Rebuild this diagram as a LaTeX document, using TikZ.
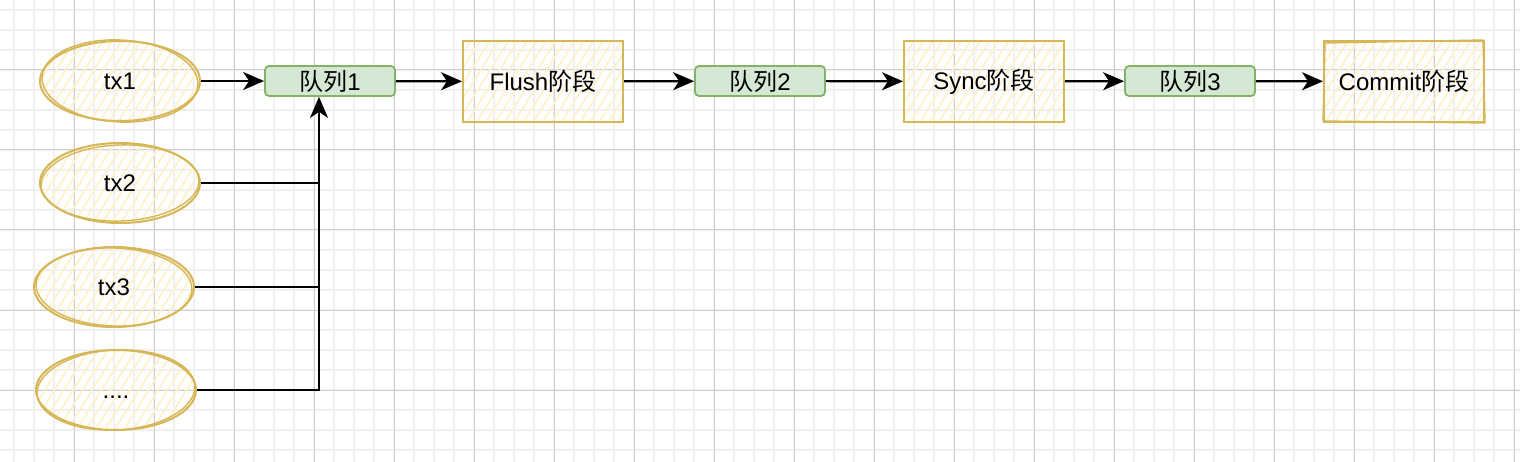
\documentclass[tikz,border=0pt]{standalone}
\usepackage{fontspec}
\setmainfont{Liberation Sans}
\newfontfamily\cjk{Noto Sans CJK SC}
\usetikzlibrary{arrows.meta,shapes.geometric,patterns.meta}
\definecolor{minorg}{HTML}{F0F0F0}
\definecolor{majorg}{HTML}{D0D0D0}
\definecolor{ystroke}{HTML}{D6B656}
\definecolor{yhatch}{HTML}{FFF2CC}
\definecolor{gfill}{HTML}{D5E8D4}
\definecolor{gstroke}{HTML}{82B366}
\tikzset{
  minorgrid/.style={draw=minorg,line width=2pt},
  majorgrid/.style={draw=majorg,line width=1pt},
  txell/.style={ellipse,draw=ystroke,line width=2pt,minimum width=160pt,minimum height=80pt,inner sep=0pt,
    pattern={Lines[angle=58,distance=8pt,line width=1.8pt]},pattern color=yhatch,
    font=\fontsize{24}{28}\selectfont},
  sketchline/.style={draw=ystroke,line width=1.4pt},
  stagebox/.style={rectangle,draw=ystroke,line width=2pt,minimum width=160pt,minimum height=81pt,inner sep=0pt,
    pattern={Lines[angle=58,distance=8pt,line width=1.8pt]},pattern color=yhatch,
    font=\fontsize{24}{28}\selectfont},
  queuebox/.style={rectangle,rounded corners=4pt,draw=gstroke,fill=gfill,line width=1.8pt,
    minimum width=130pt,minimum height=30pt,inner sep=0pt,font=\fontsize{24}{28}\selectfont},
  arr/.style={draw=black,line width=2.2pt,-{Stealth[length=21pt,width=18pt,inset=6pt]}},
  conn/.style={draw=black,line width=2.2pt},
}
\begin{document}
\begin{tikzpicture}[x=1pt,y=-1pt]
\useasboundingbox (0,0) rectangle (1520,462);
\fill[white] (0,0) rectangle (1520,462);
% grid
\foreach \x in {14,34,...,1514} \draw[minorgrid] (\x,0) -- (\x,462);
\foreach \y in {10,30,...,450} \draw[minorgrid] (0,\y) -- (1520,\y);
\foreach \x in {74,154,...,1514} \draw[majorgrid] (\x,0) -- (\x,462);
\foreach \y in {70,150,...,390} \draw[majorgrid] (0,\y) -- (1520,\y);

% transaction ellipses
\node[txell] (tx1) at (120,81) {tx1};
\node[txell] (tx2) at (120,183) {tx2};
\node[txell] (tx3) at (114,287) {tx3};
\node[txell] (tx4) at (116,390) {\vphantom{Tx}....};
\draw[sketchline,rotate around={-3:(120,81)}] (120,81) ellipse [x radius=78pt,y radius=41pt];
\draw[sketchline,rotate around={2:(120,183)}] (120,183) ellipse [x radius=79pt,y radius=38pt];
\draw[sketchline,rotate around={-2:(114,287)}] (114,287) ellipse [x radius=78pt,y radius=39pt];
\draw[sketchline,rotate around={3:(116,390)}] (116,390) ellipse [x radius=79pt,y radius=40pt];

% stage boxes
\node[stagebox] (flush) at (543,81.5) {Flush{\cjk 阶段}};
\node[stagebox] (sync) at (984,81.5) {Sync{\cjk 阶段}};
\node[stagebox] (commit) at (1404,81.5) {Commit{\cjk 阶段}};
\draw[sketchline] (1325,43) -- (1483,40) -- (1485,123) -- (1323,121) -- cycle;

% queues
\node[queuebox] (q1) at (330,81) {{\cjk 队列}1};
\node[queuebox] (q2) at (760,81) {{\cjk 队列}2};
\node[queuebox] (q3) at (1190,81) {{\cjk 队列}3};

% connectors
\coordinate (jb) at (319,390);
\draw[arr] (tx1) -- (q1);
\draw[conn] (tx2.east) -- (tx2.east -| jb);
\draw[conn] (tx3.east) -- (tx3.east -| jb);
\draw[arr] (tx4.east) -- (jb) -- (jb |- q1.south);
\draw[arr] (q1) -- (flush);
\draw[arr] (flush) -- (q2);
\draw[arr] (q2) -- (sync);
\draw[arr] (sync) -- (q3);
\draw[arr] (q3) -- (commit);
\end{tikzpicture}
\end{document}
